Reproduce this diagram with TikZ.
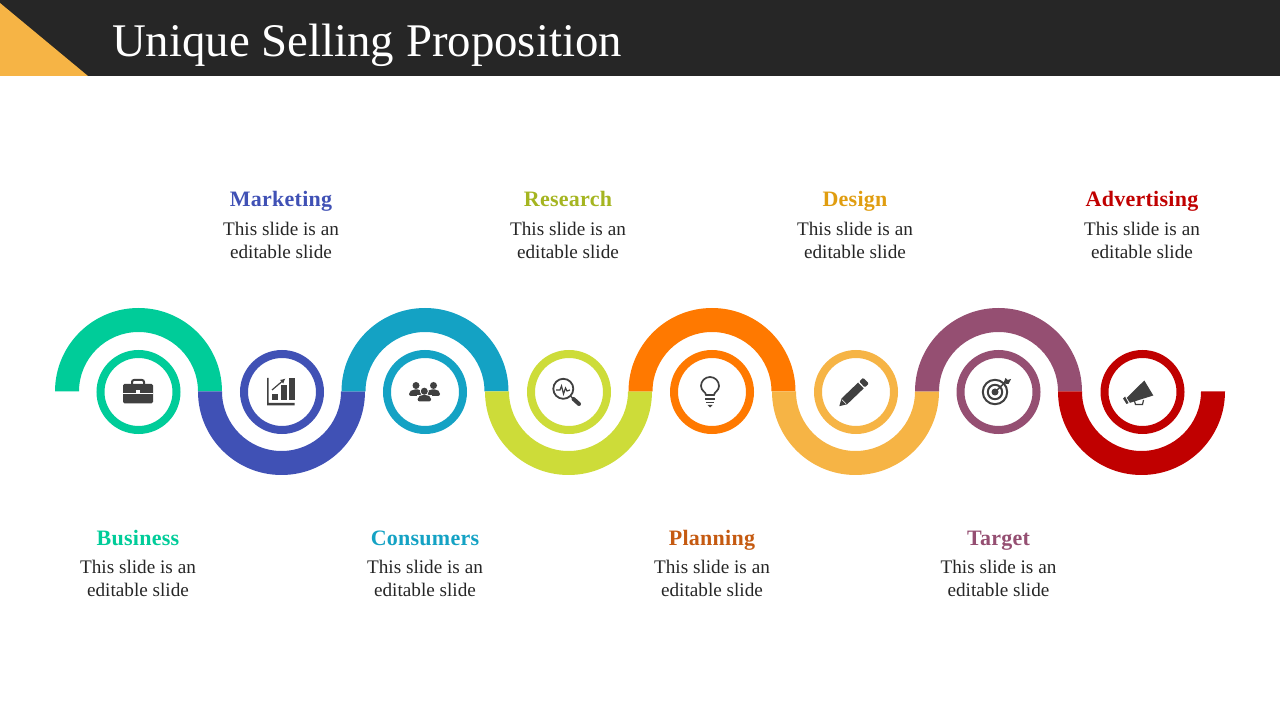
\documentclass[tikz,border=0pt]{standalone}
\usepackage{fontspec}
\setmainfont{Liberation Serif}
\newfontfamily\headfont[LetterSpace=1.2]{Liberation Serif}
\usetikzlibrary{arrows.meta}
\definecolor{barcol}{HTML}{262626}
\definecolor{icocol}{HTML}{404040}
\definecolor{cgreen}{HTML}{00CC99}
\definecolor{cblue}{HTML}{4051B5}
\definecolor{cteal}{HTML}{14A2C4}
\definecolor{clime}{HTML}{CDDC39}
\definecolor{corange}{HTML}{FF7900}
\definecolor{camber}{HTML}{F6B445}
\definecolor{cplum}{HTML}{954F72}
\definecolor{cred}{HTML}{C00000}
\definecolor{tlime}{HTML}{A5B521}
\definecolor{torange}{HTML}{C55A11}
\definecolor{tamber}{HTML}{E09D10}
\tikzset{
	ring/.style={circle, line width=8pt, minimum size=76pt, inner sep=0pt, fill=white},
	head/.style={font=\headfont\fontsize{22}{24}\selectfont\bfseries, inner sep=0pt, anchor=base},
	desc/.style={font=\fontsize{19.2}{23}\selectfont, align=center, inner sep=0pt, text=barcol},
	ico/.style={fill=icocol, draw=none},
	icoline/.style={draw=icocol, line width=1.5pt}
}
\begin{document}
\begin{tikzpicture}[x=1pt,y=1pt]
\useasboundingbox(0,0)rectangle(1280,720);
% header
\fill[barcol](0,644)rectangle(1280,720);
\fill[camber](0,717)--(88,644)--(0,644)--cycle;
\node[text=white, anchor=base west, inner sep=0pt, font=\fontsize{46.8}{50}\selectfont](title)at(112,663.5){Unique Selling Proposition};
% bands
\fill[cgreen](55,328.5)arc(180:0:83.5)--++(-24,0)arc(0:180:59.5)--cycle;
\fill[cblue](198,328.5)arc(180:360:83.5)--++(-24,0)arc(360:180:59.5)--cycle;
\fill[cteal](341.5,328.5)arc(180:0:83.5)--++(-24,0)arc(0:180:59.5)--cycle;
\fill[clime](485,328.5)arc(180:360:83.5)--++(-24,0)arc(360:180:59.5)--cycle;
\fill[corange](628.5,328.5)arc(180:0:83.5)--++(-24,0)arc(0:180:59.5)--cycle;
\fill[camber](772,328.5)arc(180:360:83.5)--++(-24,0)arc(360:180:59.5)--cycle;
\fill[cplum](915,328.5)arc(180:0:83.5)--++(-24,0)arc(0:180:59.5)--cycle;
\fill[cred](1058,328.5)arc(180:360:83.5)--++(-24,0)arc(360:180:59.5)--cycle;
% rings
\node[ring, draw=cgreen](rbusiness)at(138.5,328){};
\node[ring, draw=cblue](rmarketing)at(282,328){};
\node[ring, draw=cteal](rconsumers)at(425,328){};
\node[ring, draw=clime](rresearch)at(569,328){};
\node[ring, draw=corange](rplanning)at(712,328){};
\node[ring, draw=camber](rdesign)at(856,328){};
\node[ring, draw=cplum](rtarget)at(998.5,328){};
\node[ring, draw=cred](radvert)at(1142.5,328){};
% labels
\node[head, text=cgreen](business)at(138,174.5){Business};
\node[desc](dbusiness)at(138,142){This slide is an\\editable slide};
\node[head, text=cblue](marketing)at(281,513.5){Marketing};
\node[desc](dmarketing)at(281,480){This slide is an\\editable slide};
\node[head, text=cteal](consumers)at(425,174.5){Consumers};
\node[desc](dconsumers)at(425,142){This slide is an\\editable slide};
\node[head, text=tlime](research)at(568,513.5){Research};
\node[desc](dresearch)at(568,480){This slide is an\\editable slide};
\node[head, text=torange](planning)at(712,174.5){Planning};
\node[desc](dplanning)at(712,142){This slide is an\\editable slide};
\node[head, text=tamber](design)at(855,513.5){Design};
\node[desc](ddesign)at(855,480){This slide is an\\editable slide};
\node[head, text=cplum](target)at(998.5,174.5){Target};
\node[desc](dtarget)at(998.5,142){This slide is an\\editable slide};
\node[head, text=cred](advert)at(1142,513.5){Advertising};
\node[desc](dadvert)at(1142,480){This slide is an\\editable slide};
% briefcase
\begin{scope}[shift={(rbusiness)}]
\draw[icoline, line width=2pt, rounded corners=2pt](-6.5,7)--(-6.5,12)--(5.5,12)--(5.5,7);
\fill[ico, rounded corners=1.5pt](-15.5,-11.5)rectangle(14.5,8);
\fill[white](-15.5,-1.2)rectangle(14.5,-0.6);
\fill[white](-2.5,-2.5)rectangle(1.5,1.5);
\end{scope}
% chart
\begin{scope}[shift={(rmarketing)}]
\fill[ico](-15,14)--(-15,-13.5)--(12.5,-13.5)--(12.5,-10.8)--(-13.3,-10.8)--(-13.3,14)--cycle;
\fill[ico](-9.8,-8.5)rectangle(-4.2,-1.8);
\fill[ico](-1.5,-8.5)rectangle(4.5,6.5);
\fill[ico](6.8,-8.5)rectangle(12.5,13.8);
\draw[icoline, line width=1.2pt, -{Latex[length=5pt,width=5pt]}](-10,2)--(3.5,13.5);
\end{scope}
% people
\begin{scope}[shift={(rconsumers)}]
\fill[ico](-9,6.5)circle(3.5);
\fill[ico](8.5,6.5)circle(3.5);
\fill[ico, rounded corners=2pt](-16,-4)--(-16,0)--(-12,2.5)--(-5,2.5)--(-2,0)--(-5,-4)--cycle;
\fill[ico, rounded corners=2pt](15,-4)--(15,0)--(12,2.5)--(5,2.5)--(1,0)--(4,-4)--cycle;
\fill[white](-0.7,0.8)circle(4.5);
\fill[ico](-0.7,0.8)circle(3.5);
\fill[white](-8.5,-10)rectangle(7,-3);
\fill[ico, rounded corners=2pt](-7.3,-9.5)--(-7.3,-5)--(-3.5,-3)--(2.5,-3)--(6,-5)--(6,-9.5)--cycle;
\end{scope}
% magnifier
\begin{scope}[shift={(rresearch)}]
\draw[icoline, line width=1.8pt](-5.7,3.2)circle(10);
\draw[icocol, line width=1.2pt](-13,2)--(-9,2)--(-7.5,6)--(-5.5,-2)--(-3.5,4)--(-2,1)--(1,2);
\draw[icocol, line width=1.2pt](1.5,-4)--(4,-6.5);
\draw[icocol, line width=4pt, line cap=round](4.5,-7)--(10,-12);
\end{scope}
% bulb
\begin{scope}[shift={(rplanning)}]
\draw[icoline, line width=1.7pt](-6,-3)..controls(-6,0)and(-11,1)..(-11,6)arc(180:0:9)..controls(7,1)and(2,0)..(2,-3)--cycle;
\draw[icocol, line width=1.8pt](-7,-6.8)--(3,-6.8);
\draw[icocol, line width=1.8pt](-6,-10.5)--(2,-10.5);
\fill[ico](-4.5,-13)--(0.5,-13)--(-2,-15.5)--cycle;
\end{scope}
% pencil
\begin{scope}[shift={(rdesign)}]
\fill[ico](-16.7,-14.2)--(-14.5,-6.5)--(2.1,9.4)--(7.7,3.6)--(-8.9,-12.3)--cycle;
\fill[ico, rounded corners=1pt](3.2,10.4)--(7.2,14.2)--(12.8,8.4)--(8.8,4.6)--cycle;
\draw[white, line width=0.6pt](-14.2,-7.6)--(-10,-11.8);
\end{scope}
% target
\begin{scope}[shift={(rtarget)}]
\draw[icoline, line width=2pt](-3.5,0)circle(12.2);
\draw[icoline, line width=2pt](-3.5,0)circle(7.2);
\fill[ico](-3.5,0)circle(3.5);
\draw[icocol, line width=1.5pt](-3.5,0)--(8,11);
\fill[ico](5,9)--(7,14)--(9,12)--(12.5,13)--(10,8)--(8,8)--cycle;
\end{scope}
% megaphone
\begin{scope}[shift={(radvert)}]
\fill[ico](-15.8,-5.8)--(1.8,11.5)--(10.8,-3.5)--(-12.5,-10.8)--cycle;
\fill[ico](-19.5,-6.5)--(-17.5,-4.5)--(-14,-11)--(-16,-12)--cycle;
\draw[icoline, line width=1.2pt](-8,-9)--(-7,-12.5)--(0,-12.5)--(1,-8);
\end{scope}
\end{tikzpicture}
\end{document}
